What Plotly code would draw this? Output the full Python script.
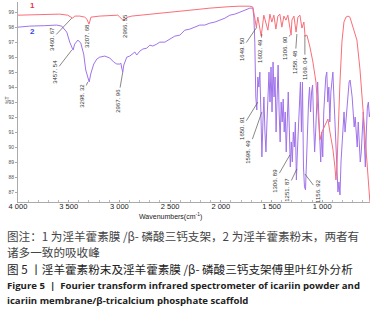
import plotly.graph_objects as go

# ---- data ----
red_wn = [4000, 3786, 3589, 3510, 3460, 3441, 3391, 3342, 3320, 3300, 3280, 3194, 3095, 3016, 2996, 2966, 2937, 2917,
          2878, 2799, 2700, 2602, 2503, 2404, 2306, 2207, 2108, 2010, 1911, 1812, 1714, 1684, 1664, 1650, 1635, 1615,
          1602, 1576, 1556, 1536, 1516, 1497, 1477, 1457, 1437, 1418, 1398, 1378, 1358, 1339, 1307, 1299, 1279, 1258,
          1240, 1220, 1200, 1181, 1169, 1151, 1121, 1092, 1062, 1042, 1023, 1003, 973, 944, 924, 895, 875, 865, 855,
          845, 825, 806, 786, 766, 746, 727, 707, 687, 658, 628, 599, 559, 530]
red_T = [98.82, 98.85, 98.89, 98.82, 98.62, 98.76, 98.76, 98.69, 98.55, 98.22, 98.69, 98.76, 98.79, 98.82, 98.69,
         98.49, 98.56, 98.69, 98.76, 98.82, 98.89, 98.96, 99.02, 99.09, 99.16, 99.22, 99.29, 99.36, 99.39, 99.42,
         99.42, 99.36, 98.56, 98.02, 98.69, 97.82, 97.42, 98.82, 98.22, 97.82, 98.89, 98.36, 98.82, 97.89, 98.76,
         98.89, 98.02, 98.76, 98.49, 98.82, 97.49, 98.49, 98.76, 97.69, 98.69, 98.82, 97.96, 98.36, 97.42, 97.49,
         96.69, 95.69, 94.36, 92.16, 90.49, 91.02, 91.49, 91.89, 91.02, 89.89, 88.69, 87.82, 88.69, 91.02, 94.36,
         97.02, 98.36, 98.69, 98.76, 98.69, 98.22, 97.69, 97.16, 95.22, 92.36, 89.02, 86.36]

purple_wn = [4000, 3885, 3736, 3618, 3569, 3519, 3490, 3457, 3441, 3410, 3381, 3352, 3332, 3298, 3283, 3253, 3223,
             3194, 3144, 3095, 3056, 3026, 2996, 2986, 2977, 2967, 2957, 2927, 2898, 2868, 2848, 2829, 2799, 2769,
             2730, 2700, 2671, 2631, 2602, 2552, 2503, 2454, 2404, 2355, 2306, 2256, 2207, 2158, 2108, 2059, 2010,
             1960, 1911, 1862, 1812, 1763, 1714, 1684, 1674,
             1665, 1655, 1645, 1635, 1625, 1615, 1605, 1595, 1585, 1575, 1565, 1555, 1545, 1535, 1525, 1515, 1505,
             1495, 1485, 1475, 1465, 1455, 1445, 1435, 1425, 1415, 1405, 1395, 1385, 1375, 1365, 1355, 1345, 1335,
             1325, 1315, 1305, 1295, 1285, 1275, 1265, 1255, 1245, 1235, 1225, 1215, 1205, 1195, 1185, 1175, 1165,
             1155, 1145, 1135, 1125, 1115, 1105, 1095, 1085, 1075, 1065, 1055, 1045, 1035, 1025, 1015, 1005, 995,
             985, 975, 965, 955, 945, 935, 925, 915, 905, 895, 885, 875, 865, 855, 845, 835, 825, 815, 805, 795,
             785, 775, 765, 755, 745, 735, 725, 715, 705, 695, 685, 675, 665, 655, 645, 635, 625, 615, 605, 595,
             585, 575, 565, 555, 545, 535, 525]
purple_T = [98.02, 98.09, 98.12, 98.16, 98.09, 97.69, 97.02, 96.49, 96.89, 97.16, 96.96, 96.22, 95.16, 94.36, 94.89,
            95.56, 95.89, 96.02, 96.09, 95.96, 95.69, 95.56, 95.56, 95.62, 95.29, 95.02, 95.49, 96.02, 96.09, 96.22,
            96.36, 96.16, 96.42, 96.56, 96.62, 96.82, 96.76, 96.89, 97.02, 97.02, 97.22, 97.42, 97.49, 97.82, 97.89,
            98.02, 98.16, 98.16, 98.29, 98.36, 98.49, 98.62, 98.82, 98.89, 99.02, 99.16, 99.29, 99.29, 98.69,
            97.02, 93.36, 92.49, 94.69, 94.02, 95.02, 92.36, 89.36, 91.69, 93.36,
            91.02, 89.69, 91.69, 93.69, 95.02, 93.02, 95.36, 92.36, 95.69, 93.36,
            94.69, 91.02, 93.02, 95.49, 92.36, 90.36, 93.02, 91.69, 93.22, 91.02,
            92.36, 89.69, 91.69, 93.69, 91.36, 88.69, 90.36, 89.02, 91.02, 90.02,
            91.69, 87.82, 89.69, 91.69, 93.36, 94.36, 91.02, 94.36, 88.69, 87.36,
            87.16, 89.69, 91.69, 93.02, 94.02, 92.36, 93.69, 94.16, 91.69, 89.69,
            91.02, 93.02, 94.36, 92.36, 90.36, 89.02, 91.02, 89.36, 92.36, 93.69,
            94.69, 95.02, 93.02, 94.02, 91.69, 93.69, 94.69, 95.02, 93.36, 91.69,
            89.69, 88.36, 87.02, 87.69, 86.82, 89.02, 90.36, 91.69, 92.36, 91.02,
            92.02, 93.02, 93.69, 94.36, 94.49, 94.02, 93.36, 92.36, 91.36, 92.02,
            91.02, 90.02, 91.69, 90.36, 89.02, 89.69, 91.36, 92.36, 90.36, 88.69,
            91.02, 92.69, 93.02, 92.02, 92.36]

# peak labels: text, anchor wavenumber, anchor %T, text offset (px)
red_lbl = ["3460. 67", "3207. 68", "2966. 55", "1649. 50", "1602. 49", "1306. 90", "1258. 48", "1169. 04"]
red_lbl_wn = [3470, 3312, 2937, 1645, 1595, 1319, 1250, 1171]
red_lbl_T = [98.62, 98.22, 98.49, 98.02, 97.56, 97.49, 97.56, 97.49]
red_lbl_dx = [-20, -1, -1, -15, -2, -5, -2, 0]
red_lbl_dy = [21, 12, 6, 22, 17, 13, 28, 33]

pur_lbl = ["3457. 54", "3298. 32", "2967. 96", "1650. 91", "1598. 49", "1306. 89", "1251. 87", "1156. 92"]
pur_lbl_wn = [3470, 3312, 2967, 1635, 1595, 1319, 1250, 1171]
pur_lbl_T = [96.49, 94.36, 95.02, 93.02, 92.36, 89.49, 88.56, 88.22]
pur_lbl_dx = [-17, -6, -5, -16, -14, -15, -10, 13]
pur_lbl_dy = [22, 14, 29, 26, 40, 26, 21, 17]

x_ticks = [4000, 3500, 3000, 2500, 2000, 1500, 1000]
x_ticktext = ["4 000", "3 500", "3 000", "2 500", "2 000", "1 500", "1 000"]
y_ticks = list(range(87, 100))

captions = [
    ("图注：1 为淫羊藿素膜 /β- 磷酸三钙支架，2 为淫羊藿素粉末，两者有", 236.5, False, "#444"),
    ("诸多一致的吸收峰", 252, False, "#444"),
    ("图 5 丨淫羊藿素粉末及淫羊藿素膜 /β- 磷酸三钙支架傅里叶红外分析", 269, False, "#222"),
    ("Figure 5  |  Fourier transform infrared spectrometer of icariin powder and", 285, True, "#222"),
    ("icariin membrane/β-tricalcium phosphate scaffold", 300, True, "#222"),
]

RED = "rgb(250,110,120)"
PUR = "rgb(160,115,235)"

fig = go.Figure()
fig.add_trace(go.Scatter(x=purple_wn, y=purple_T, mode="lines", line=dict(color=PUR, width=1), hoverinfo="skip"))
fig.add_trace(go.Scatter(x=red_wn, y=red_T, mode="lines", line=dict(color=RED, width=1), hoverinfo="skip"))

ann = []
for lbls, wns, ts, dxs, dys in [(red_lbl, red_lbl_wn, red_lbl_T, red_lbl_dx, red_lbl_dy),
                                (pur_lbl, pur_lbl_wn, pur_lbl_T, pur_lbl_dx, pur_lbl_dy)]:
    for t, w, v, dx, dy in zip(lbls, wns, ts, dxs, dys):
        ann.append(dict(x=w, y=v, xref="x", yref="y", text=t, textangle=-90, showarrow=True,
                        arrowhead=0, arrowwidth=0.7, arrowcolor="#555", ax=dx, ay=dy,
                        font=dict(family="Liberation Sans", size=6, color="#333")))

L, R, T, B = 18, 16, 2, 111
W, H = 386, 313
pw, ph = W - L - R, H - T - B


def px(x):
    return (x - L) / pw


def py(y):
    return (H - B - y) / ph


def txt(x, y, text, size, color, family="Liberation Sans", angle=0, xanchor="center"):
    return dict(x=px(x), y=py(y), xref="paper", yref="paper", text=text, showarrow=False, textangle=angle,
                xanchor=xanchor, yanchor="middle", font=dict(family=family, size=size, color=color))


ann.append(txt(32, 5, "<b>1</b>", 8, "#e8334a"))
ann.append(txt(32, 31, "<b>2</b>", 8, "#3344dd"))
ann.append(txt(7, 100, "%T", 5, "#444", angle=-90))
ann.append(txt(170, 216, "Wavenumbers(cm<sup>-1</sup>)", 7, "#222"))
for text, yy, bold, col in captions:
    if bold:
        ann.append(txt(5, yy, f"<b>{text}</b>", 9.6, col, family="Open Sans", xanchor="left"))
    else:
        ann.append(txt(5, yy, text, 11.6, col, family="Noto Sans CJK SC", xanchor="left"))

fig.update_layout(
    width=W, height=H, margin=dict(l=L, r=R, t=T, b=B),
    paper_bgcolor="white", plot_bgcolor="white", showlegend=False,
    annotations=ann,
    xaxis=dict(range=[4000, 529], tickvals=x_ticks, ticktext=x_ticktext, showgrid=False, zeroline=False,
               showline=True, linecolor="#aaa", linewidth=1, ticks="inside", ticklen=2, tickcolor="#aaa",
               minor=dict(dtick=100, ticks="inside", ticklen=2, tickcolor="#bbb"),
               ticklabelstandoff=-3,
               tickfont=dict(family="Liberation Sans", size=7.5, color="#222")),
    yaxis=dict(range=[86.35, 99.7], tickvals=y_ticks, showgrid=False, zeroline=False,
               showline=True, linecolor="#aaa", linewidth=1, ticks="outside", ticklen=2, tickcolor="#aaa",
               tickfont=dict(family="Liberation Sans", size=5, color="#555")),
)

fig.write_html("out.html", config={"displayModeBar": False, "staticPlot": True},
               post_script="document.body.style.margin='0px';document.body.style.padding='0px';")
